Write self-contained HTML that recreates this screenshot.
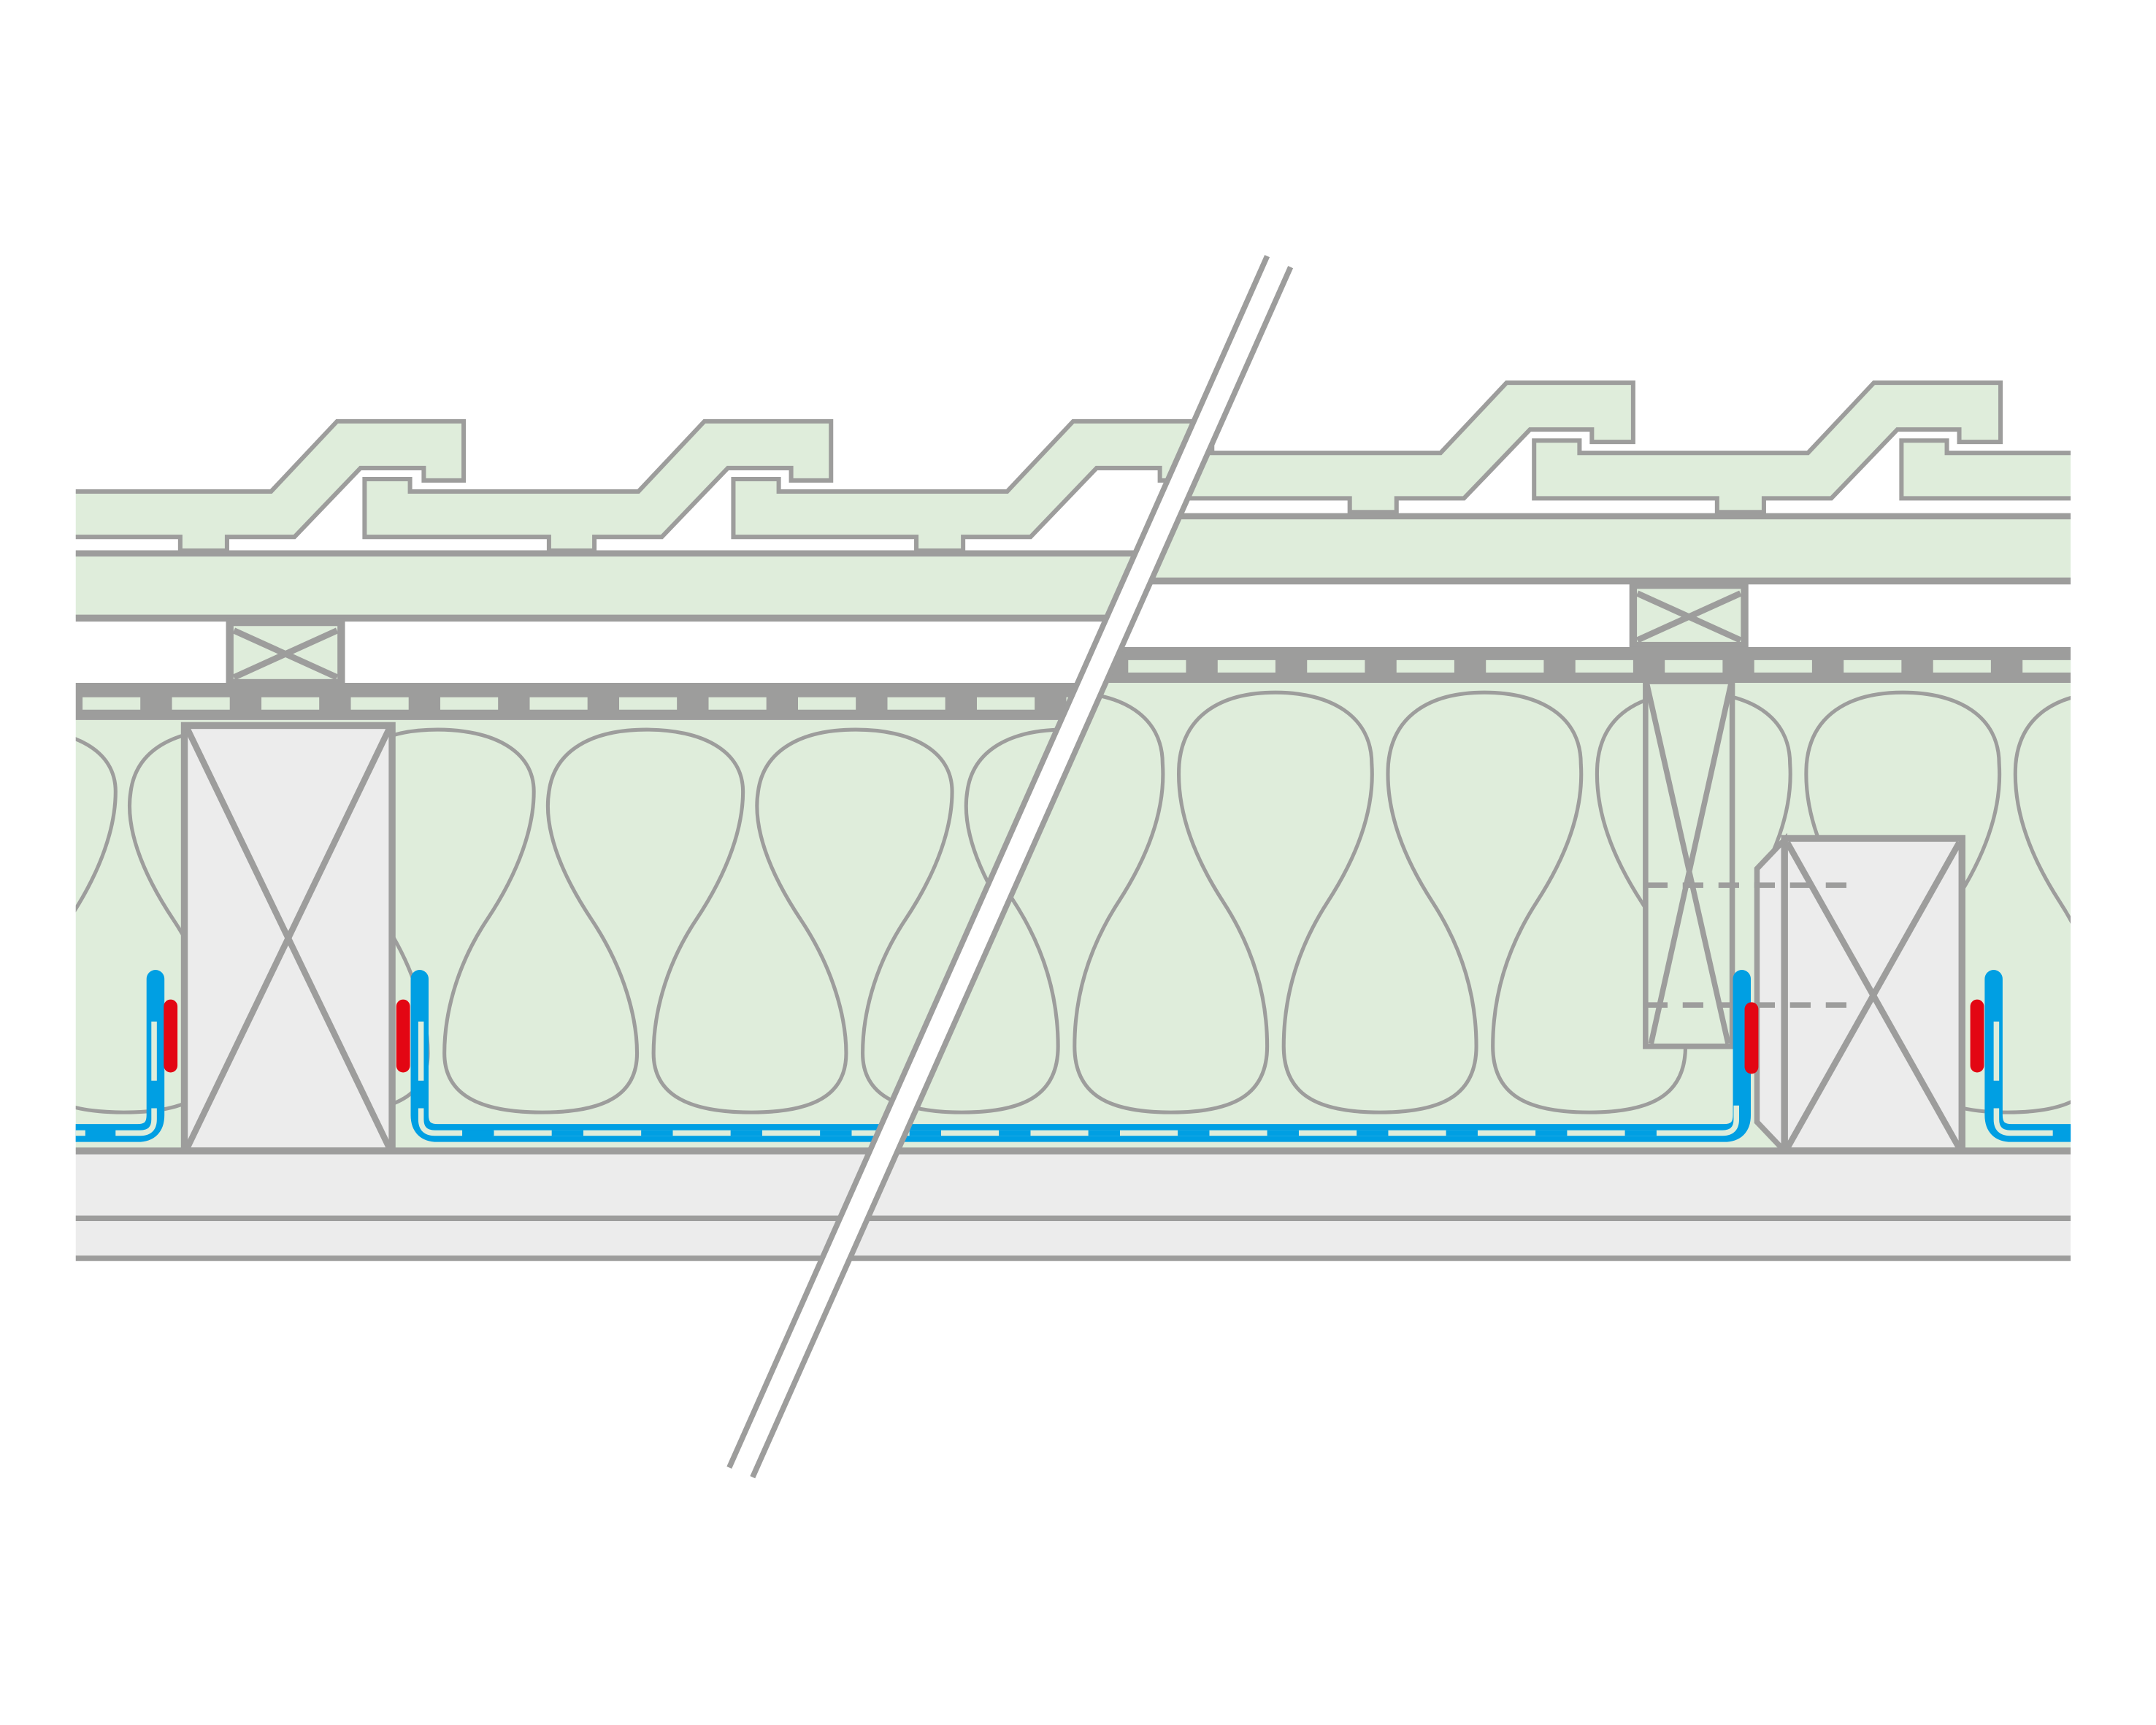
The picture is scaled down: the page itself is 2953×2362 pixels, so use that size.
<!DOCTYPE html>
<html><head><meta charset="utf-8"><style>html,body{margin:0;padding:0;background:#fff}svg{display:block}</style></head>
<body>
<svg width="2953" height="2362" viewBox="0 0 1567 1253" preserveAspectRatio="none" xmlns="http://www.w3.org/2000/svg">
<defs>
<clipPath id="cl"><polygon points="55,0 1003,0 449,1248 55,1248"/></clipPath>
<clipPath id="cr"><polygon points="1024,0 1505,0 1505,1248 470,1248"/></clipPath>
<clipPath id="ca"><rect x="55" y="0" width="1450" height="1248"/></clipPath>
<path id="bl" d="M -40 668 C -64 632 -75 600 -71 575 C -67 545 -40 530 0 530 C 40 530 70 545 70 575 C 70 600 60 632 36 668 C 12 704 5 740 5 765 C 5 795 30 808 76 808 C 122 808 145 795 145 765 C 145 740 136 704 112 668" fill="none" stroke="#9d9d9c" stroke-width="2.7"/>
<path id="br" d="M -38 655 C -62 618 -72 585 -70 555 C -67 520 -40 503 0 503 C 40 503 70 520 70 555 C 72 585 62 618 38 655 C 14 692 6 728 6 760 C 6 795 30 808 76 808 C 122 808 146 795 146 760 C 146 728 138 692 114 655" fill="none" stroke="#9d9d9c" stroke-width="2.7"/>
</defs>
<g fill="none" stroke="#9d9d9c">
<g clip-path="url(#cl)">
 <rect x="40" y="523" width="800" height="313" fill="#dfeddb" stroke="none"/>
 <g>
  <use href="#bl" x="-138"/><use href="#bl" x="14"/><use href="#bl" x="166"/><use href="#bl" x="318"/><use href="#bl" x="470"/><use href="#bl" x="622"/><use href="#bl" x="774"/>
 </g>
 <g fill="#dfeddb" stroke-width="3.2">
  <polygon points="-2,390 -2,348 31,348 31,357 197,357 245,306 337,306 337,349 308,349 308,340 262,340 214,390 165,390 165,400 131,400 131,390"/>
  <polygon points="265,390 265,348 298,348 298,357 464,357 512,306 604,306 604,349 575,349 575,340 529,340 481,390 432,390 432,400 399,400 399,390"/>
  <polygon points="533,390 533,348 566,348 566,357 732,357 780,306 872,306 872,349 843,349 843,340 797,340 749,390 700,390 700,400 666,400 666,390"/>
 </g>
 <rect x="40" y="402" width="820" height="47" fill="#dfeddb" stroke="none"/>
 <line x1="40" y1="402" x2="860" y2="402" stroke-width="4.5"/>
 <line x1="40" y1="449" x2="860" y2="449" stroke-width="5"/>
 <rect x="167" y="452" width="81" height="44" fill="#dfeddb" stroke-width="5.5"/>
 <path d="M170 458 L245 492 M245 458 L170 492" stroke-width="4.5"/>
 <rect x="40" y="496" width="800" height="27" fill="#9d9d9c" stroke="none"/>
 <line x1="60" y1="511" x2="840" y2="511" stroke="#dfeddb" stroke-width="9" stroke-dasharray="42 23"/>
 <rect x="134" y="527" width="151" height="309" fill="#ececec" stroke-width="5"/>
 <path d="M136 529 L283 834 M283 529 L136 834" stroke-width="4.5"/>
</g>
<g clip-path="url(#cr)">
 <rect x="450" y="495" width="1070" height="341" fill="#dfeddb" stroke="none"/>
 <use href="#br" x="623"/><use href="#br" x="775"/><use href="#br" x="927"/><use href="#br" x="1079"/><use href="#br" x="1231"/><use href="#br" x="1383"/><use href="#br" x="1535"/>
 <rect x="1259" y="600" width="18" height="236" fill="#dfeddb" stroke="none"/>
 <rect x="1228" y="758" width="32" height="78" fill="#dfeddb" stroke="none"/>
 <g fill="#dfeddb" stroke-width="3.2">
  <polygon points="848,362 848,320 881,320 881,329 1047,329 1095,278 1187,278 1187,321 1157,321 1157,312 1112,312 1064,362 1015,362 1015,372 981,372 981,362"/>
  <polygon points="1115,362 1115,320 1148,320 1148,329 1314,329 1362,278 1454,278 1454,321 1424,321 1424,312 1379,312 1331,362 1282,362 1282,372 1248,372 1248,362"/>
  <polygon points="1382,362 1382,320 1415,320 1415,329 1581,329 1629,278 1721,278 1721,321 1691,321 1691,312 1646,312 1598,362 1549,362 1549,372 1515,372 1515,362"/>
 </g>
 <rect x="700" y="375" width="820" height="47" fill="#dfeddb" stroke="none"/>
 <line x1="700" y1="375" x2="1520" y2="375" stroke-width="4.5"/>
 <line x1="700" y1="422" x2="1520" y2="422" stroke-width="5"/>
 <rect x="1187" y="425" width="81" height="44" fill="#dfeddb" stroke-width="5.5"/>
 <path d="M1190 431 L1265 465 M1265 431 L1190 465" stroke-width="4.5"/>
 <rect x="700" y="470" width="820" height="26" fill="#9d9d9c" stroke="none"/>
 <line x1="690" y1="484" x2="1520" y2="484" stroke="#dfeddb" stroke-width="9" stroke-dasharray="42 23"/>
 <rect x="1196" y="495" width="63" height="265" fill="#dfeddb" stroke-width="4"/>
 <path d="M1197 497 L1256 758 M1258 497 L1200 758" stroke-width="4"/>
 <polygon points="1277,631 1297,610 1297,836 1277,815" fill="#ececec" stroke-width="4"/>
 <rect x="1297" y="609" width="129" height="227" fill="#ececec" stroke-width="5"/>
 <path d="M1299 612 L1424 834 M1424 612 L1299 834" stroke-width="4.5"/>
 <path d="M1197 643 H1347 M1197 730 H1347" stroke-width="4" stroke-dasharray="15 11"/>
</g>
<g stroke-linecap="round" clip-path="url(#ca)">
 <path d="M40 823 H100 Q113 823 113 810 V711" stroke="#009fe3" stroke-width="13"/>
 <path d="M305 711 V810 Q305 823 318 823 H1253 Q1266 823 1266 810 V711" stroke="#009fe3" stroke-width="13"/>
 <path d="M1449 711 V810 Q1449 823 1462 823 H1520" stroke="#009fe3" stroke-width="13"/>
 <g stroke="#dfeddb" stroke-width="4" stroke-linecap="butt">
  <path d="M40 823 H62 M84 823 H102 Q112 823 112 813 V805 M112 785 V742"/>
  <path d="M306 742 V785 M306 805 V813 Q306 823 316 823 H336 M358 823 H1252 Q1262 823 1262 813 V803"/>
  <path d="M1451 742 V785 M1451 805 V813 Q1451 823 1461 823 H1492"/>
 </g>
 <path d="M336 823 H1240" stroke="#009fe3" stroke-width="4" stroke-dasharray="23 42" stroke-linecap="butt"/>
 <g stroke="#e30613" stroke-width="10">
  <line x1="124" y1="731" x2="124" y2="774"/>
  <line x1="293" y1="731" x2="293" y2="774"/>
  <line x1="1273" y1="733" x2="1273" y2="775"/>
  <line x1="1437" y1="731" x2="1437" y2="774"/>
 </g>
</g>
<g clip-path="url(#cl)">
 <rect x="40" y="837" width="1480" height="77" fill="#ececec" stroke="none"/>
 <path d="M40 836 H1520" stroke-width="5"/><path d="M40 885 H1520" stroke-width="4"/><path d="M40 914 H1520" stroke-width="4"/>
</g>
<g clip-path="url(#cr)">
 <rect x="40" y="837" width="1480" height="77" fill="#ececec" stroke="none"/>
 <path d="M40 836 H1520" stroke-width="5"/><path d="M40 885 H1520" stroke-width="4"/><path d="M40 914 H1520" stroke-width="4"/>
</g>
<polygon points="921,186 938,194 547,1073 530,1066" fill="#fff" stroke="none"/>
<line x1="921" y1="186" x2="530" y2="1066" stroke-width="4"/>
<line x1="938" y1="194" x2="547" y2="1073" stroke-width="4"/>
</g>
</svg>
</body></html>
